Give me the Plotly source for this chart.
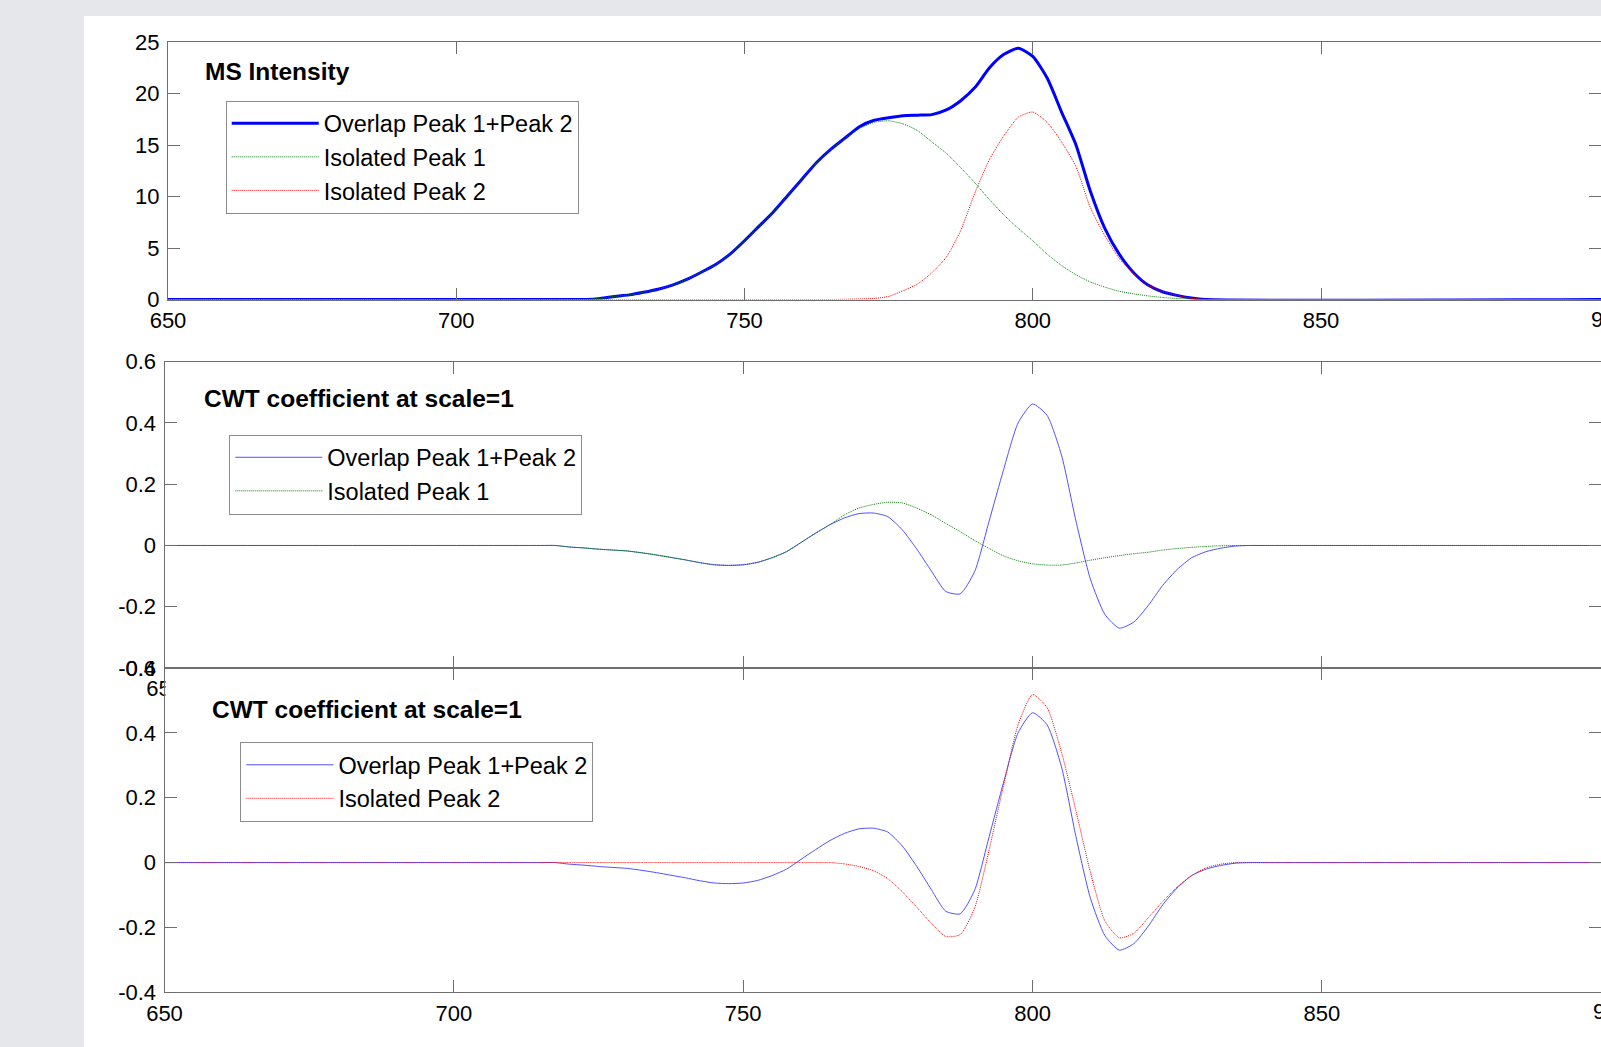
import plotly.graph_objects as go

# ---------------------------------------------------------------- data
# m/z sampling of the MS trace (flat zero outside 720-830)
mz_ms = [650, 720, 722.5, 725, 727.5, 730, 732.5, 735, 737.5, 740, 742.5,
         745, 747.5, 750, 752.5, 755, 757.5, 760, 762.5, 765, 767.5, 770,
         772.5, 775, 777.5, 780, 782.5, 785, 787.5, 790, 792.5, 795, 797.5,
         800, 802.5, 805, 807.5, 810, 812.5, 815, 817.5, 820, 822.5, 825,
         827.5, 830, 900]

ms_overlap = [0, 0, 0, 0.1, 0.3, 0.45, 0.7, 1.0, 1.4, 1.95, 2.65,
              3.4, 4.4, 5.7, 7.1, 8.5, 10.1, 11.7, 13.3, 14.6, 15.7, 16.8,
              17.4, 17.65, 17.85, 17.9, 17.95, 18.4, 19.3, 20.6, 22.5, 23.8, 24.4,
              23.6, 21.5, 18.2, 15.0, 10.5, 6.9, 4.4, 2.6, 1.4, 0.75, 0.4,
              0.15, 0, 0]

ms_peak1 = [0, 0, 0, 0.1, 0.3, 0.45, 0.7, 1.0, 1.4, 1.95, 2.65,
            3.4, 4.4, 5.7, 7.1, 8.5, 10.1, 11.7, 13.3, 14.6, 15.65, 16.6,
            17.2, 17.35, 17.05, 16.4, 15.3, 14.2, 12.8, 11.3, 9.7, 8.2, 6.9,
            5.7, 4.4, 3.3, 2.4, 1.7, 1.2, 0.8, 0.55, 0.35, 0.2, 0.1,
            0.05, 0, 0]

ms_peak2 = [0, 0, 0, 0, 0, 0, 0, 0, 0, 0, 0,
            0, 0, 0, 0, 0, 0, 0, 0, 0, 0.02, 0.05,
            0.1, 0.3, 0.85, 1.5, 2.6, 4.1, 6.7, 10.4, 13.6, 15.9, 17.7,
            18.2, 17.2, 15.3, 12.9, 8.9, 6.2, 4.0, 2.5, 1.4, 0.8, 0.4,
            0.12, 0, 0]

# m/z sampling of the CWT coefficients (flat zero outside 715-840)
mz_cwt = [650, 715, 717.5, 720, 722.5, 725, 727.5, 730, 732.5, 735, 737.5,
          740, 742.5, 745, 747.5, 750, 752.5, 755, 757.5, 760, 762.5,
          765, 767.5, 770, 772.5, 775, 777.5, 780, 782.5, 785, 787.5,
          790, 792.5, 795, 797.5, 800, 802.5, 805, 807.5, 810, 812.5,
          815, 817.5, 820, 822.5, 825, 827.5, 830, 832.5, 835, 837.5,
          840, 900]

cwt_overlap = [0, 0, 0, -0.005, -0.008, -0.012, -0.015, -0.018, -0.024, -0.031, -0.039,
               -0.047, -0.056, -0.063, -0.065, -0.063, -0.055, -0.040, -0.020, 0.010, 0.040,
               0.068, 0.090, 0.104, 0.106, 0.094, 0.051, -0.012, -0.083, -0.150, -0.158,
               -0.085, 0.080, 0.248, 0.400, 0.462, 0.425, 0.295, 0.080, -0.110, -0.225,
               -0.270, -0.250, -0.196, -0.130, -0.078, -0.040, -0.020, -0.009, -0.002, 0,
               0, 0]

cwt_peak1 = [0, 0, 0, -0.005, -0.008, -0.012, -0.015, -0.018, -0.024, -0.031, -0.039,
             -0.047, -0.056, -0.063, -0.065, -0.063, -0.055, -0.040, -0.020, 0.010, 0.040,
             0.068, 0.100, 0.122, 0.134, 0.141, 0.139, 0.122, 0.100, 0.072, 0.045,
             0.016, -0.010, -0.034, -0.050, -0.060, -0.064, -0.064, -0.057, -0.048, -0.040,
             -0.033, -0.027, -0.022, -0.015, -0.010, -0.006, -0.003, -0.001, 0, 0,
             0, 0]

cwt_peak2 = [0, 0, 0, 0, 0, 0, 0, 0, 0, 0, 0,
             0, 0, 0, 0, 0, 0, 0, 0, 0, 0,
             0, -0.004, -0.012, -0.025, -0.050, -0.090, -0.138, -0.187, -0.228, -0.222,
             -0.140, 0.040, 0.238, 0.425, 0.518, 0.478, 0.340, 0.160, -0.030, -0.180,
             -0.232, -0.218, -0.170, -0.120, -0.075, -0.040, -0.016, -0.005, 0, 0,
             0, 0]

x_ticks = [650, 700, 750, 800, 850, 900]
ms_ticks = [0, 5, 10, 15, 20, 25]
cwt_ticks = [-0.4, -0.2, 0, 0.2, 0.4, 0.6]
cwt_tick_text = ["-0.4", "-0.2", "0", "0.2", "0.4", "0.6"]

title_ms = "MS Intensity"
title_cwt = "CWT coefficient at scale=1"
name_overlap = "Overlap Peak 1+Peak 2"
name_peak1 = "Isolated Peak 1"
name_peak2 = "Isolated Peak 2"

# ---------------------------------------------------------------- layout geometry
W, H = 1601, 1047
FONT = "Liberation Sans, Arial, sans-serif"
AXIS = "#6e6e6e"
BG = "#e5e7eb"


def fx(p):
    return p / W


def fy(p):
    return 1 - p / H


# left edge, top, bottom (px) and px per m/z unit for each axes box;
# the boxes run past the right window edge, so the range is cut there
panels = [
    dict(left=168.0, top=42.0, bottom=299.5, ppu=5.765),
    dict(left=164.5, top=361.7, bottom=668.0, ppu=5.787),
    dict(left=164.5, top=668.0, bottom=992.3, ppu=5.787),
]

fig = go.Figure()

blue = "#0000ff"
thin_blue = "#5050ff"
green = "#008000"
red = "#ff0000"
dots = "1px,1px"
smooth = dict(shape="spline", smoothing=0.6)

# top: raw MS intensity
fig.add_trace(go.Scatter(x=mz_ms, y=ms_overlap, mode="lines", name=name_overlap,
                         line=dict(color=blue, width=3, **smooth), xaxis="x", yaxis="y",
                         legend="legend"))
fig.add_trace(go.Scatter(x=mz_ms, y=ms_peak1, mode="lines", name=name_peak1,
                         line=dict(color=green, width=1, dash=dots, **smooth),
                         xaxis="x", yaxis="y", legend="legend"))
fig.add_trace(go.Scatter(x=mz_ms, y=ms_peak2, mode="lines", name=name_peak2,
                         line=dict(color=red, width=1, dash=dots, **smooth),
                         xaxis="x", yaxis="y", legend="legend"))

# middle: CWT of overlap vs peak 1
fig.add_trace(go.Scatter(x=mz_cwt, y=cwt_overlap, mode="lines", name=name_overlap,
                         line=dict(color=thin_blue, width=1, **smooth),
                         xaxis="x2", yaxis="y2", legend="legend2"))
fig.add_trace(go.Scatter(x=mz_cwt, y=cwt_peak1, mode="lines", name=name_peak1,
                         line=dict(color=green, width=1, dash=dots, **smooth),
                         xaxis="x2", yaxis="y2", legend="legend2"))

# bottom: CWT of overlap vs peak 2
fig.add_trace(go.Scatter(x=mz_cwt, y=cwt_overlap, mode="lines", name=name_overlap,
                         line=dict(color=thin_blue, width=1, **smooth),
                         xaxis="x3", yaxis="y3", legend="legend3"))
fig.add_trace(go.Scatter(x=mz_cwt, y=cwt_peak2, mode="lines", name=name_peak2,
                         line=dict(color=red, width=1, dash=dots, **smooth),
                         xaxis="x3", yaxis="y3", legend="legend3"))

axis_common = dict(
    showline=True, linecolor=AXIS, linewidth=1, mirror="ticks",
    ticks="inside", ticklen=12, tickwidth=1, tickcolor=AXIS,
    showgrid=False, zeroline=False, automargin=False,
    tickfont=dict(family=FONT, size=22, color="black"),
)

layout_axes = {}
y_specs = [
    dict(range=[0, 25], tickvals=ms_ticks, ticktext=[str(v) for v in ms_ticks]),
    dict(range=[-0.4, 0.6], tickvals=cwt_ticks, ticktext=cwt_tick_text),
    dict(range=[-0.4, 0.6], tickvals=cwt_ticks, ticktext=cwt_tick_text),
]
# the middle box's x labels sit under the lower box; only the first peeks out
x_texts = [
    [str(v) for v in x_ticks],
    [str(x_ticks[0])] + [""] * (len(x_ticks) - 1),
    [str(v) for v in x_ticks],
]
for i, (p, ys, xt) in enumerate(zip(panels, y_specs, x_texts)):
    suffix = "" if i == 0 else str(i + 1)
    x_max = 650 + (W - p["left"]) / p["ppu"]
    layout_axes["xaxis" + suffix] = dict(
        axis_common, domain=[fx(p["left"]), 1.0], range=[650, x_max],
        tickvals=x_ticks, ticktext=xt,
        anchor="y" + suffix, ticklabelstandoff=1,
    )
    layout_axes["yaxis" + suffix] = dict(
        axis_common, domain=[fy(p["bottom"]), fy(p["top"])],
        anchor="x" + suffix, ticklabelstandoff=3, **ys,
    )

legend_common = dict(
    xanchor="left", yanchor="top", bgcolor="white",
    bordercolor="#8c8c8c", borderwidth=1,
    font=dict(family=FONT, size=23.5, color="black"),
    itemwidth=87, itemclick=False, itemdoubleclick=False,
)

title_font = dict(family=FONT, size=24.5, color="black")
label_font = dict(family=FONT, size=22, color="black")

annotations = [
    dict(text="<b>%s</b>" % title_ms, x=fx(203.0), y=fy(71.3)),
    dict(text="<b>%s</b>" % title_cwt, x=fx(201.6), y=fy(398.3)),
    dict(text="<b>%s</b>" % title_cwt, x=fx(209.5), y=fy(709.3)),
]
for a in annotations:
    a.update(xref="paper", yref="paper", xanchor="left", yanchor="middle",
             showarrow=False, font=title_font)

# last x tick label sits just past the right window edge
for p, label_y in ((panels[0], 319.0), (panels[2], 1011.0)):
    x900 = p["left"] + (x_ticks[-1] - 650) * p["ppu"]
    annotations.append(dict(text=str(x_ticks[-1]), x=fx(x900), y=fy(label_y),
                            xref="paper", yref="paper", xanchor="center",
                            yanchor="middle", showarrow=False, font=label_font))

mid, low = panels[1], panels[2]
shapes = [
    # white figure area over the grey window background
    dict(type="rect", xref="paper", yref="paper", x0=fx(84), x1=1.0,
         y0=0, y1=fy(16), fillcolor="white", line=dict(width=0), layer="below"),
    # the lower box is opaque: it hides the right part of the middle box's first label
    dict(type="rect", xref="paper", yref="paper",
         x0=fx(low["left"] + 1), x1=fx(low["left"] + 40),
         y0=fy(low["top"] + 34), y1=fy(low["top"] + 1),
         fillcolor="white", line=dict(width=0), layer="above"),
]

fig.update_layout(
    template="none",
    width=W, height=H, autosize=False,
    margin=dict(l=0, r=0, t=0, b=0, pad=0),
    paper_bgcolor=BG, plot_bgcolor="white",
    font=dict(family=FONT, color="black"),
    hovermode=False,
    legend=dict(legend_common, x=fx(225.7), y=fy(100.5)),
    legend2=dict(legend_common, x=fx(229.3), y=fy(434.5)),
    legend3=dict(legend_common, x=fx(240.4), y=fy(742.0)),
    annotations=annotations,
    shapes=shapes,
    **layout_axes,
)

fig.write_html("out.html", config={"displayModeBar": False})
